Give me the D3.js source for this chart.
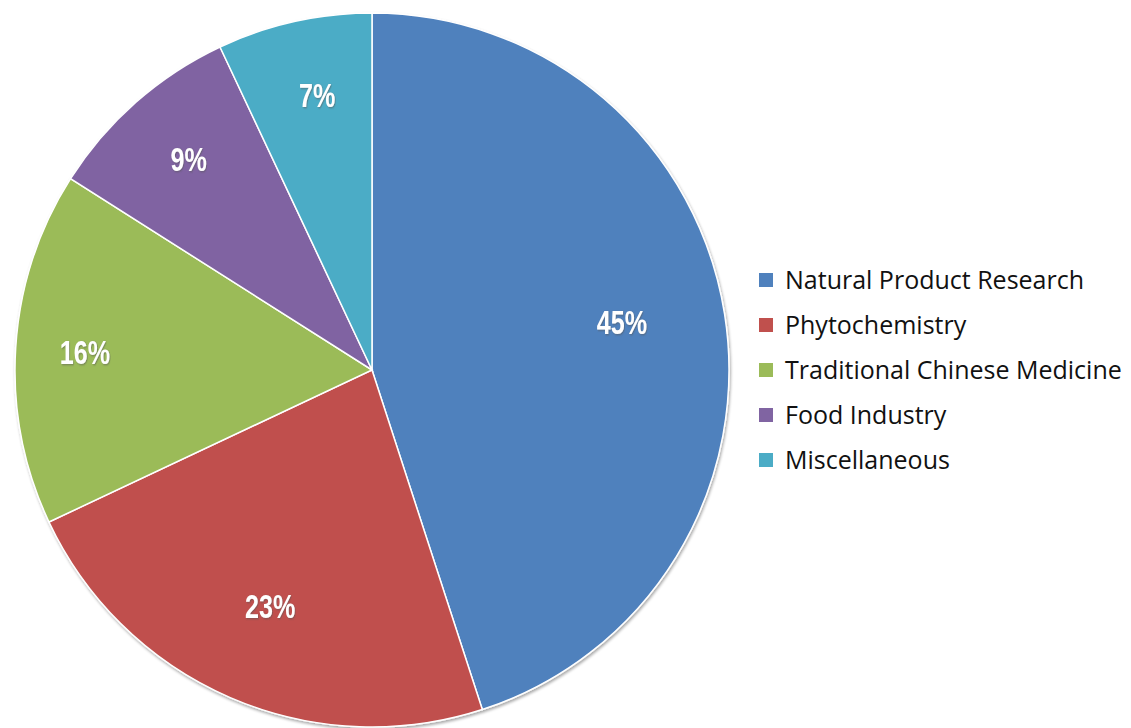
<!DOCTYPE html>
<html><head><meta charset="utf-8">
<script src="https://cdn.jsdelivr.net/npm/d3@7"></script>
<style>body{margin:0;background:#fff}svg{display:block}</style>
</head><body>
<svg id="c" width="1131" height="728"></svg>
<script>
const categories = ["Natural Product Research","Phytochemistry","Traditional Chinese Medicine","Food Industry","Miscellaneous"];
const values = [45, 23, 16, 9, 7];
const colors = ["#4F81BD","#C0504D","#9BBB59","#8064A2","#4BACC6"];

// layout: label distance from centre (fraction of radius) and angular nudge (degrees)
const labelRadiusFrac = [0.713, 0.718, 0.806, 0.784, 0.785];
const labelAngleNudge = [-2, 0, 0, 0.5, 1.3];

const W = 1131, H = 728;
const cx = 372, cy = 370, R = 357;
const svg = d3.select("#c");
const defs = svg.append("defs");
const f = defs.append("filter").attr("id","sh").attr("x","-10%").attr("y","-10%").attr("width","120%").attr("height","120%");
f.append("feGaussianBlur").attr("in","SourceAlpha").attr("stdDeviation",1.5).attr("result","b");
f.append("feOffset").attr("in","b").attr("dx",1).attr("dy",1.5).attr("result","o");
f.append("feComponentTransfer").attr("in","o").attr("result","o2").append("feFuncA").attr("type","linear").attr("slope",0.35);
const m = f.append("feMerge"); m.append("feMergeNode").attr("in","o2"); m.append("feMergeNode").attr("in","SourceGraphic");

const tf = defs.append("filter").attr("id","tsh");
tf.append("feDropShadow").attr("dx",1).attr("dy",1).attr("stdDeviation",0.8).attr("flood-color","#555").attr("flood-opacity",0.6);

const pie = d3.pie().sort(null).value(d => d)(values);
const arc = d3.arc().innerRadius(0).outerRadius(R);
const g = svg.append("g").attr("transform",`translate(${cx},${cy})`);
g.append("g").attr("filter","url(#sh)").selectAll("path").data(pie).join("path")
  .attr("d", arc).attr("fill",(d,i)=>colors[i]).attr("stroke","#fff").attr("stroke-width",1.5);

g.selectAll("text.lbl").data(pie).join("text").attr("class","lbl")
  .attr("transform",(d,i)=>{const a=(d.startAngle+d.endAngle)/2 + labelAngleNudge[i]*Math.PI/180; const r=R*labelRadiusFrac[i]; return `translate(${Math.sin(a)*r},${-Math.cos(a)*r}) scale(0.74,1)`;})
  .attr("text-anchor","middle").attr("dy","0.36em")
  .attr("font-family","'Liberation Sans',Arial,sans-serif").attr("font-weight","bold")
  .attr("font-size",34).attr("fill","#fff").attr("filter","url(#tsh)")
  .text(d => d.value + "%");

const leg = svg.append("g").attr("transform","translate(759,280)");
const li = leg.selectAll("g").data(categories).join("g").attr("transform",(d,i)=>`translate(0,${i*45})`);
li.append("rect").attr("x",0).attr("y",-7).attr("width",14).attr("height",14).attr("fill",(d,i)=>colors[i]);
li.append("text").attr("x",26).attr("dy","0.36em").attr("font-family","'Open Sans',sans-serif").attr("font-size",25).attr("fill","#111").text(d=>d);
</script>
</body></html>
